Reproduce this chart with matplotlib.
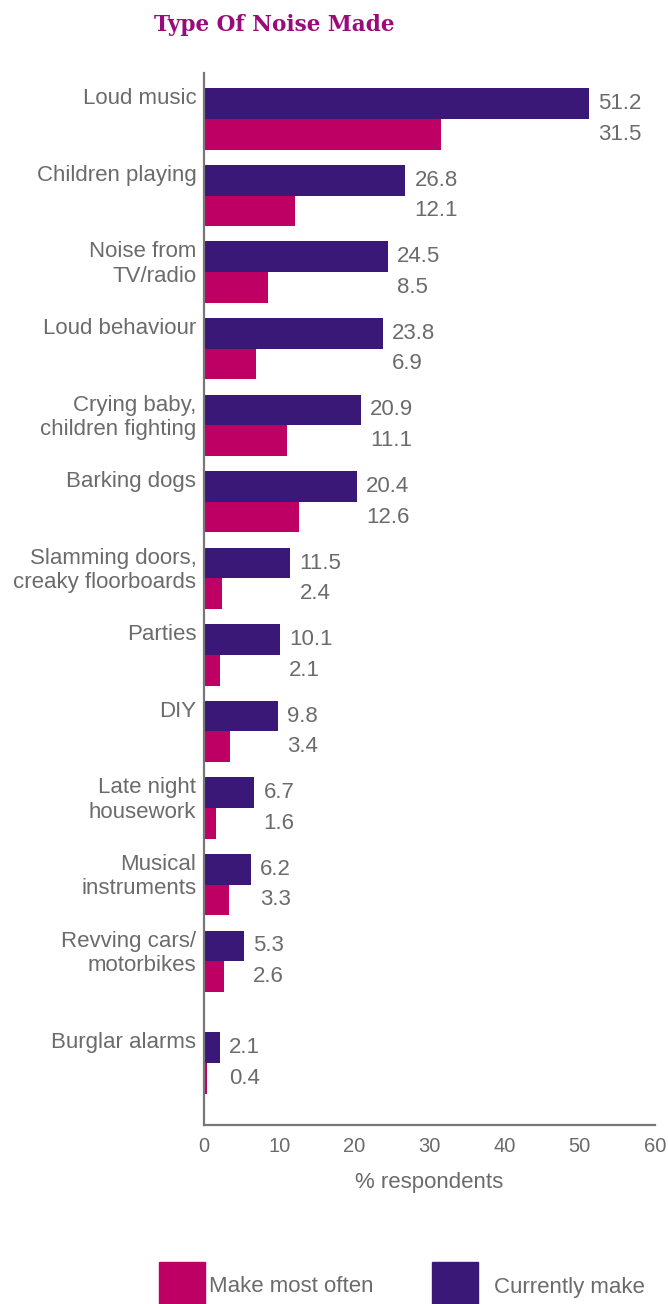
import numpy as np
import matplotlib
matplotlib.use('Agg')
import matplotlib.pyplot as plt
from matplotlib.patches import Rectangle

categories = ['Loud music', 'Children playing', 'Noise from\nTV/radio', 'Loud behaviour',
              'Crying baby,\nchildren fighting', 'Barking dogs', 'Slamming doors,\ncreaky floorboards',
              'Parties', 'DIY', 'Late night\nhousework', 'Musical\ninstruments',
              'Revving cars/\nmotorbikes', 'Burglar alarms']
currently_make = [51.2, 26.8, 24.5, 23.8, 20.9, 20.4, 11.5, 10.1, 9.8, 6.7, 6.2, 5.3, 2.1]
most_often = [31.5, 12.1, 8.5, 6.9, 11.1, 12.6, 2.4, 2.1, 3.4, 1.6, 3.3, 2.6, 0.4]
xticks = [0, 10, 20, 30, 40, 50, 60]

purple = '#3a1878'
pink = '#be0064'
grey = '#6b6b6b'

plt.rcParams['font.family'] = ['Liberation Sans', 'DejaVu Sans']

fig = plt.figure(figsize=(6.68, 13.04), dpi=100)
ax = fig.add_axes([204 / 668, 1 - 1125 / 1304, 451 / 668, 1052 / 1304])

# group centres, last group sits a little further down
y = np.arange(len(categories), dtype=float)
y[-1] += 0.33
h = 0.4

ax.barh(y - h / 2, currently_make, height=h, color=purple)
ax.barh(y + h / 2, most_often, height=h, color=pink)

for yi, a, b in zip(y, currently_make, most_often):
    xm = max(a, b)
    ax.annotate(f'{a}', (xm, yi - h / 2), xytext=(6.5, 0), textcoords='offset points',
                va='center', ha='left', fontsize=16, color=grey)
    ax.annotate(f'{b}', (xm, yi + h / 2), xytext=(6.5, 0), textcoords='offset points',
                va='center', ha='left', fontsize=16, color=grey)

ax.set_xlim(0, 60)
ax.set_ylim(y[-1] + 0.81, -0.6)
ax.set_xticks(xticks)
ax.set_xticklabels([str(t) for t in xticks])
ax.set_yticks(y - h)
ax.set_yticklabels(categories, fontsize=16, color=grey)
for lab in ax.get_yticklabels():
    lab.set_va('top')
ax.tick_params(axis='y', length=0, pad=5.5)
ax.tick_params(axis='x', length=0, pad=9, labelsize=14.5, labelcolor=grey)

for s in ['top', 'right']:
    ax.spines[s].set_visible(False)
for s in ['left', 'bottom']:
    ax.spines[s].set_color('#777777')
    ax.spines[s].set_linewidth(1.6)

ax.set_xlabel('% respondents', fontsize=16, color=grey, labelpad=11)

fig.text(274 / 668, 1 - 25 / 1304, 'Type Of Noise Made', ha='center', va='center',
         fontsize=15.6, fontweight='bold', family='DejaVu Serif', color='#9a0a7a')

# legend
fig.add_artist(Rectangle((159 / 668, 0), 46 / 668, 42 / 1304, transform=fig.transFigure,
                         color=pink))
fig.text(209 / 668, 1 - 1287 / 1304, 'Make most often', fontsize=16, color=grey, va='center')
fig.add_artist(Rectangle((432 / 668, 0), 46 / 668, 42 / 1304, transform=fig.transFigure,
                         color=purple))
fig.text(494 / 668, 1 - 1287 / 1304, 'Currently make', fontsize=16, color=grey, va='center')

fig.savefig('out.png', dpi=100)
